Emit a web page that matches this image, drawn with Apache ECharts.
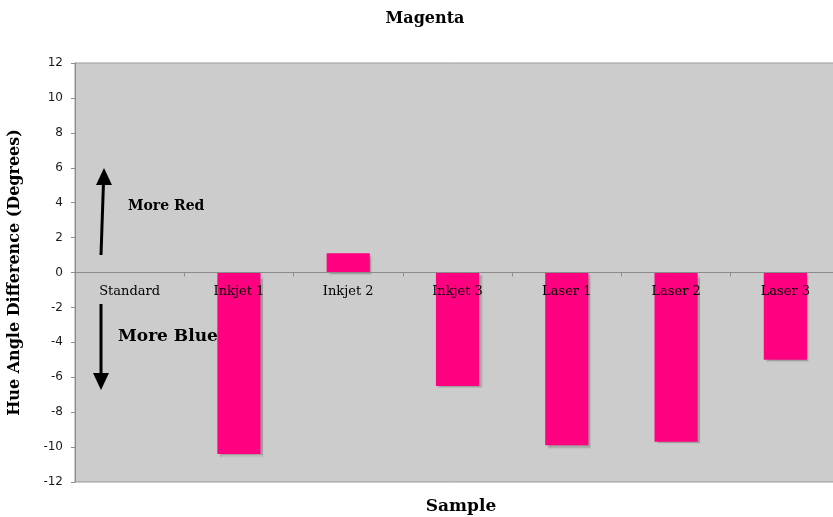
<!DOCTYPE html>
<html>
<head>
<meta charset="utf-8">
<script src="https://cdn.jsdelivr.net/npm/echarts@6/dist/echarts.min.js"></script>
<style>
  html, body { margin: 0; padding: 0; background: #ffffff; }
  #chart { width: 833px; height: 517px; }
</style>
</head>
<body>
<div id="chart"></div>
<script>
// Hue angle difference per sample (degrees)
const categories = ['Standard', 'Inkjet 1', 'Inkjet 2', 'Inkjet 3', 'Laser 1', 'Laser 2', 'Laser 3'];
const hueDiff = [0, -10.4, 1.1, -6.5, -9.9, -9.7, -5.0];
const yTicks = { min: -12, max: 12, step: 2 };

const serif = '"DejaVu Serif", "Liberation Serif", serif';
const chart = echarts.init(document.getElementById('chart'), null, { renderer: 'canvas' });

chart.setOption({
  backgroundColor: '#ffffff',
  animation: false,
  title: [{
    text: 'Magenta',
    left: 420,
    top: 6,
    textAlign: 'center',
    textStyle: { fontFamily: serif, fontWeight: 'bold', fontSize: 16, color: '#000' }
  }, {
    text: 'Sample',
    left: 456,
    top: 493,
    textAlign: 'center',
    textStyle: { fontFamily: serif, fontWeight: 'bold', fontSize: 17, color: '#000' }
  }],
  grid: {
    left: 75, right: -7, top: 63, bottom: 35,
    outerBoundsMode: 'none',
    containLabel: false,
    show: true, backgroundColor: '#cccccc',
    borderWidth: 1, borderColor: '#999999'
  },
  xAxis: {
    type: 'category',
    data: categories,
    axisLine: { onZero: true, lineStyle: { color: '#8c8c8c', width: 1 } },
    axisTick: { show: true, alignWithLabel: false, length: 4, lineStyle: { color: '#8c8c8c' } },
    axisLabel: { show: false },
    z: 10
  },
  yAxis: {
    type: 'value',
    min: yTicks.min, max: yTicks.max, interval: yTicks.step,
    name: 'Hue Angle Difference (Degrees)',
    nameLocation: 'middle',
    nameGap: 52,
    nameTextStyle: { fontFamily: serif, fontWeight: 'bold', fontSize: 16, color: '#000' },
    axisLine: { show: true, lineStyle: { color: '#8c8c8c' } },
    axisTick: { show: true, length: 4, lineStyle: { color: '#8c8c8c' } },
    axisLabel: { fontFamily: '"DejaVu Sans", Verdana, sans-serif', fontSize: 12, color: '#1a1a1a', margin: 12 },
    splitLine: { show: false }
  },
  series: [{
    type: 'bar',
    data: hueDiff,
    barWidth: '39.5%',
    itemStyle: {
      color: '#ff0080',
      shadowColor: 'rgba(0,0,0,0.22)',
      shadowOffsetX: 2.5,
      shadowOffsetY: 2.5,
      shadowBlur: 1.5
    },
    z: 2
  }, {
    // category names sitting just under the zero line
    type: 'scatter',
    data: categories.map(() => 0),
    symbolSize: 0,
    silent: true,
    itemStyle: { opacity: 1 },
    label: {
      show: true,
      position: 'bottom',
      distance: 13,
      formatter: '{b}',
      fontFamily: serif,
      fontSize: 13,
      color: '#000000',
      opacity: 1,
      textBorderWidth: 0
    },
    z: 12
  }],
  graphic: [
    // upward arrow: "More Red"
    { type: 'line', shape: { x1: 101, y1: 255, x2: 103.5, y2: 182 }, style: { stroke: '#000', lineWidth: 3 } },
    { type: 'polygon', shape: { points: [[104, 168], [96, 185], [112, 185]] }, style: { fill: '#000' } },
    { type: 'text', left: 128, top: 199, style: { text: 'More Red', font: 'bold 14px ' + serif, fill: '#000' } },
    // downward arrow: "More Blue"
    { type: 'line', shape: { x1: 101, y1: 304, x2: 101, y2: 376 }, style: { stroke: '#000', lineWidth: 3 } },
    { type: 'polygon', shape: { points: [[101, 390], [93, 373], [109, 373]] }, style: { fill: '#000' } },
    { type: 'text', left: 118, top: 328, style: { text: 'More Blue', font: 'bold 17px ' + serif, fill: '#000' } }
  ]
});
</script>
</body>
</html>
